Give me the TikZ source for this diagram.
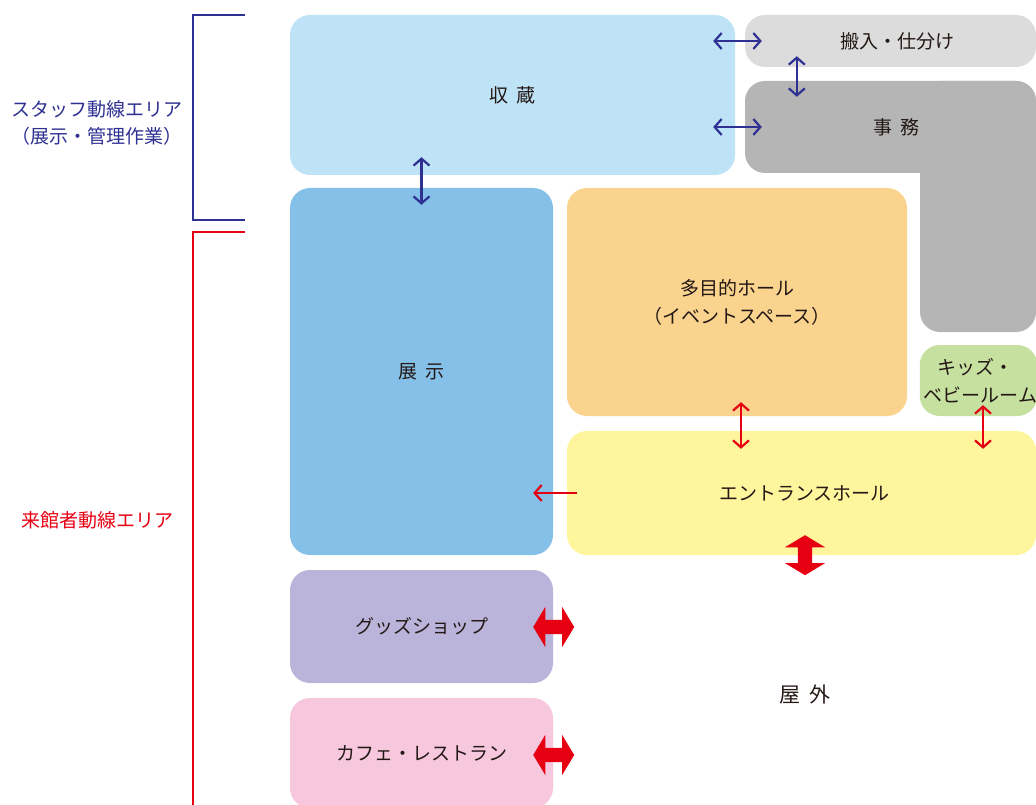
\documentclass[tikz,border=0pt]{standalone}
\usepackage{fontspec}
\setmainfont{Noto Sans CJK JP}
\usetikzlibrary{arrows.meta,shapes.arrows,calc}

\definecolor{staffblue}{HTML}{2E3192}
\definecolor{visitred}{HTML}{E60012}
\definecolor{roomtext}{HTML}{231815}
\definecolor{storecol}{HTML}{BFE3F6}
\definecolor{carrycol}{HTML}{DCDCDD}
\definecolor{officecol}{HTML}{B5B5B6}
\definecolor{exhibitcol}{HTML}{85C0E9}
\definecolor{hallcol}{HTML}{FAD38E}
\definecolor{kidscol}{HTML}{C6E0A0}
\definecolor{entrancecol}{HTML}{FFF59D}
\definecolor{shopcol}{HTML}{BBB4DA}
\definecolor{cafecol}{HTML}{F6C7DD}

\tikzset{
  room/.style={rectangle,rounded corners=20pt,inner sep=0pt,text=roomtext,
    font=\fontsize{19}{28}\selectfont,align=center},
  arealabel/.style={font=\fontsize{19}{27}\selectfont,align=center},
  staffarrow/.style={{Straight Barb[length=7pt,width=16pt]}-{Straight Barb[length=7pt,width=16pt]},
    draw=staffblue,line width=2.2pt},
  visitarrow/.style={{Straight Barb[length=7pt,width=16pt]}-{Straight Barb[length=7pt,width=16pt]},
    draw=visitred,line width=2.2pt},
  oneway/.style={-{Straight Barb[length=7pt,width=16pt]},draw=visitred,line width=2.2pt},
  bigarrow/.style={double arrow,fill=visitred,draw=none,inner xsep=0pt,inner ysep=7pt,
    double arrow head extend=13pt,double arrow tip angle=118},
}

\begin{document}
\begin{tikzpicture}[x=1pt,y=-1pt]
\useasboundingbox (0,0) rectangle (1036,805);

% area brackets
\draw[staffblue,line width=1.5pt] (245,15) -- (193,15) -- (193,220) -- (245,220);
\draw[visitred,line width=1.5pt] (245,232) -- (193,232) -- (193,806);
\node[arealabel,text=staffblue] (stafflabel) at (97,123) {スタッフ動線エリア\\（展示・管理作業）};
\node[arealabel,text=visitred] (visitlabel) at (97,520) {来館者動線エリア};

% rooms
\node[room,fill=storecol,minimum width=445pt,minimum height=160pt] (store) at (512.5,95) {収\hspace{0.45em}蔵};
\node[room,fill=carrycol,minimum width=291pt,minimum height=52pt] (carry) at (890.5,41) {\hspace{14pt}搬入・仕分け};
\node[room,fill=officecol,minimum width=116pt,minimum height=251pt] (officewing) at (978,206.5) {};
\node[room,fill=officecol,minimum width=291pt,minimum height=92pt] (office) at (890.5,127) {\hspace{12pt}事\hspace{0.45em}務};
\node[room,fill=exhibitcol,minimum width=263pt,minimum height=367pt] (exhibit) at (421.5,371.5) {展\hspace{0.45em}示};
\node[room,fill=hallcol,minimum width=340pt,minimum height=228pt] (hall) at (737,302) {多目的ホール\\（イベントスペース）};
\node[room,fill=kidscol,minimum width=115pt,minimum height=71pt] (kids) at (978.5,380.5) {\hspace{-6pt}キッズ・\\\hspace{4pt}ベビールーム};
\node[room,fill=entrancecol,minimum width=469pt,minimum height=124pt] (entrance) at (801.5,493) {\hspace{6pt}エントランスホール};
\node[room,fill=shopcol,minimum width=263pt,minimum height=113pt] (shop) at (421.5,626.5) {グッズショップ};
\node[room,fill=cafecol,minimum width=263pt,minimum height=110pt] (cafe) at (421.5,753) {カフェ・レストラン};
\node[room,font=\fontsize{21}{28}\selectfont] (outside) at (805,695) {屋\hspace{0.45em}外};

% staff routes
\draw[staffarrow] ($(store.east |- carry.west)+(-22,0)$) -- ($(carry.west)+(17,0)$);
\draw[staffarrow] ($(store.east |- office.west)+(-22,0)$) -- ($(office.west)+(17,0)$);
\draw[staffarrow] ($(carry.south west)+(52,-11)$) -- ($(office.north west)+(52,16)$);
\draw[staffarrow] ($(store.south -| exhibit.north)+(0,-18)$) -- ($(exhibit.north)+(0,17)$);

% visitor routes
\draw[visitarrow] ($(hall.south)+(4,-14)$) -- ($(hall.south |- entrance.north)+(4,18)$);
\draw[visitarrow] ($(kids.south)+(4.5,-11)$) -- ($(kids.south |- entrance.north)+(4.5,18)$);
\draw[oneway] ($(entrance.west)+(10,0)$) -- ($(exhibit.east |- entrance.west)+(-20,0)$);
\node[bigarrow,inner xsep=7pt,inner ysep=0pt,minimum height=40pt,shape border rotate=90] (gate) at ($(entrance.south)+(3.5,0)$) {};
\node[bigarrow,minimum height=41pt] (shopdoor) at ($(shop.east)+(0.5,0.5)$) {};
\node[bigarrow,minimum height=41pt] (cafedoor) at ($(cafe.east)+(0.5,2)$) {};
\end{tikzpicture}
\end{document}
